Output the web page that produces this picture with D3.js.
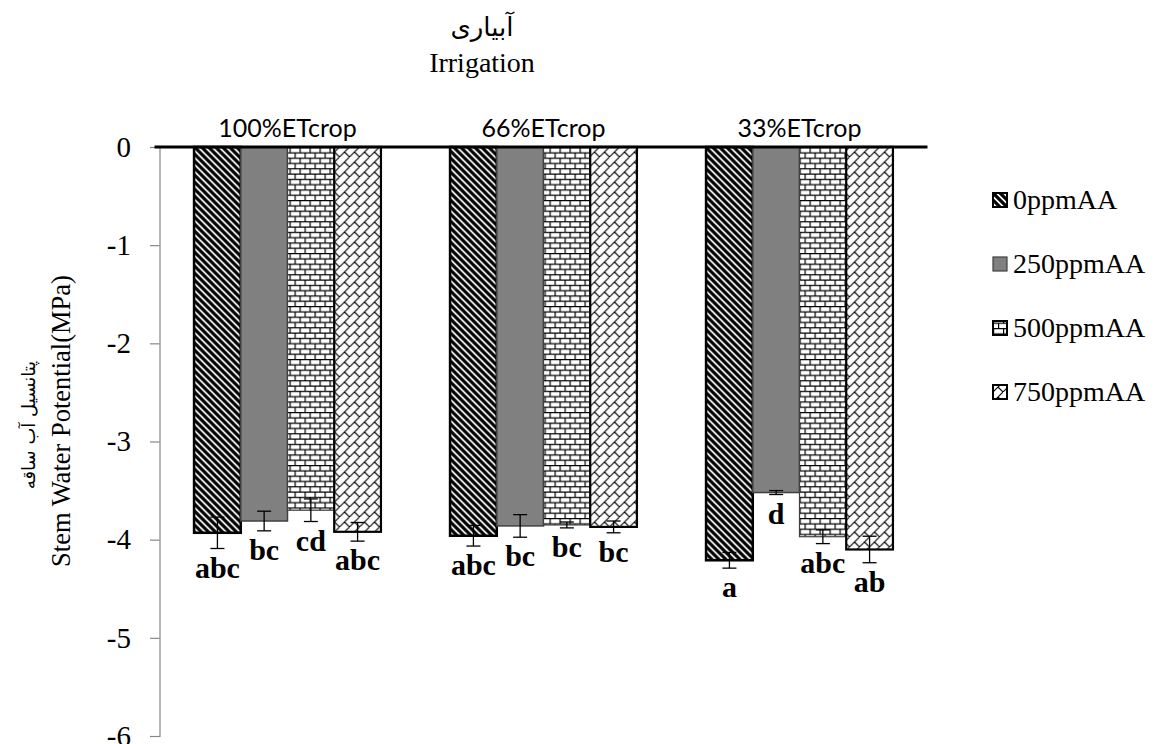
<!DOCTYPE html>
<html>
<head>
<meta charset="utf-8">
<script src="https://cdn.jsdelivr.net/npm/d3@7"></script>
<style>
  body { margin: 0; background: #fff; }
  svg { display: block; }
  .ytick text { font-family: 'Liberation Serif', 'Times New Roman', serif !important; font-size: 29px !important; }
</style>
</head>
<body>
<svg id="chart" width="1153" height="744"></svg>
<script>
// Stem water potential by irrigation level and ascorbic acid dose

const irrigation = ["100%ETcrop", "66%ETcrop", "33%ETcrop"];
const treatments = ["0ppmAA", "250ppmAA", "500ppmAA", "750ppmAA"];
// mean per irrigation level, one value per treatment (MPa)
const means100 = [-3.93, -3.81, -3.70, -3.92];
const means66 = [-3.96, -3.86, -3.85, -3.87];
const means33 = [-4.21, -3.52, -3.97, -4.10];
// standard errors
const err100 = [0.16, 0.10, 0.115, 0.095];
const err66 = [0.105, 0.115, 0.03, 0.06];
const err33 = [0.08, 0.02, 0.07, 0.135];
// significance letters
const letters100 = ["abc", "bc", "cd", "abc"];
const letters66 = ["abc", "bc", "bc", "bc"];
const letters33 = ["a", "d", "abc", "ab"];
const yTicks = [0, -1, -2, -3, -4, -5, -6];

const rows = [
  { group: irrigation[0], values: means100, errs: err100, letters: letters100 },
  { group: irrigation[1], values: means66, errs: err66, letters: letters66 },
  { group: irrigation[2], values: means33, errs: err33, letters: letters33 }
];
const bars = rows.flatMap(r => treatments.map((t, i) => ({
  group: r.group, treat: t, value: r.values[i], err: r.errs[i], letter: r.letters[i]
})));

const svg = d3.select("#chart"),
  margin = {top: 147, right: 225.5, bottom: 8, left: 159.5},
  width = +svg.attr("width") - margin.left - margin.right,
  height = +svg.attr("height") - margin.top - margin.bottom;

// --- patterns ---
const defs = svg.append("defs");
const pHatch = defs.append("pattern").attr("id", "p0").attr("patternUnits", "userSpaceOnUse")
  .attr("width", 7).attr("height", 7);
pHatch.append("rect").attr("width", 7).attr("height", 7).attr("fill", "#fff");
pHatch.append("path").attr("d", "M-2,5 L2,9 M0,0 L7,7 M5,-2 L9,2")
  .attr("stroke", "#000").attr("stroke-width", 3.2);

const pBrick = defs.append("pattern").attr("id", "p2").attr("patternUnits", "userSpaceOnUse")
  .attr("width", 10).attr("height", 10.6);
pBrick.append("rect").attr("width", 10).attr("height", 10.6).attr("fill", "#fff");
pBrick.append("path").attr("d", "M0,0.5 H10 M0,5.8 H10 M0.6,0 V5.3 M5.6,5.3 V10.6")
  .attr("stroke", "#000").attr("stroke-width", 1.2);

const pDiag = defs.append("pattern").attr("id", "p3").attr("patternUnits", "userSpaceOnUse")
  .attr("width", 10).attr("height", 10);
pDiag.append("rect").attr("width", 10).attr("height", 10).attr("fill", "#fff");
pDiag.append("path").attr("d", "M-1,11 L11,-1 M5,5 L10,10")
  .attr("stroke", "#000").attr("stroke-width", 1.1);

const fills = {
  "0ppmAA": "url(#p0)", "250ppmAA": "#808080", "500ppmAA": "url(#p2)", "750ppmAA": "url(#p3)"
};
const strokes = {
  "0ppmAA": ["#000", 2.5], "250ppmAA": ["#404040", 1.5], "500ppmAA": ["#404040", 1.2], "750ppmAA": ["#000", 2.2]
};
const serif = "'Liberation Serif', 'Times New Roman', serif";

const g = svg.append("g").attr("transform", `translate(${margin.left},${margin.top})`);

const x0 = d3.scaleBand().domain(irrigation).range([0, width]).paddingInner(0.27).paddingOuter(0.135);
const x1 = d3.scaleBand().domain(treatments).range([0, x0.bandwidth()]);
const y = d3.scaleLinear().domain([0, -6]).range([0, height]);

// y axis
const yAxis = g.append("g")
  .attr("class", "ytick")
  .call(d3.axisLeft(y).tickValues(yTicks).tickFormat(d3.format("d")).tickSize(9.5).tickPadding(19));
yAxis.select(".domain").attr("stroke", "#868686").attr("stroke-width", 1.2);
yAxis.selectAll(".tick line").attr("stroke", "#868686").attr("stroke-width", 1.2);
yAxis.selectAll(".tick text")
  .attr("fill", "#000").text(d => d === 0 ? "0" : "-" + Math.abs(d));

// bars
g.selectAll("rect.bar")
  .data(bars)
  .enter().append("rect")
  .attr("class", "bar")
  .attr("x", d => x0(d.group) + x1(d.treat))
  .attr("y", y(0))
  .attr("width", x1.bandwidth())
  .attr("height", d => y(d.value) - y(0))
  .attr("fill", d => fills[d.treat])
  .attr("stroke", d => strokes[d.treat][0])
  .attr("stroke-width", d => strokes[d.treat][1]);

// error bars
const eb = g.selectAll("g.err").data(bars).enter().append("g").attr("class", "err")
  .attr("transform", d => `translate(${x0(d.group) + x1(d.treat) + x1.bandwidth() / 2},0)`);
eb.append("line").attr("y1", d => y(d.value + d.err)).attr("y2", d => y(d.value - d.err))
  .attr("stroke", "#000").attr("stroke-width", 1.3);
eb.append("line").attr("x1", -7).attr("x2", 7)
  .attr("y1", d => y(d.value + d.err)).attr("y2", d => y(d.value + d.err))
  .attr("stroke", "#000").attr("stroke-width", 1.3);
eb.append("line").attr("x1", -7).attr("x2", 7)
  .attr("y1", d => y(d.value - d.err)).attr("y2", d => y(d.value - d.err))
  .attr("stroke", "#000").attr("stroke-width", 1.3);

// significance letters
g.selectAll("text.letter")
  .data(bars)
  .enter().append("text")
  .attr("class", "letter")
  .attr("x", d => x0(d.group) + x1(d.treat) + x1.bandwidth() / 2)
  .attr("y", d => y(d.value - d.err) + 29)
  .attr("text-anchor", "middle")
  .attr("font-family", serif)
  .attr("font-weight", "bold")
  .attr("font-size", 30)
  .text(d => d.letter);

// zero line
g.append("line")
  .attr("x1", -5).attr("x2", width)
  .attr("y1", y(0)).attr("y2", y(0))
  .attr("stroke", "#000").attr("stroke-width", 2.8);

// group labels
g.selectAll("text.grp")
  .data(irrigation)
  .enter().append("text")
  .attr("class", "grp")
  .attr("x", d => x0(d) + x0.bandwidth() / 2)
  .attr("y", -10)
  .attr("text-anchor", "middle")
  .attr("font-family", "Lato, 'Open Sans', sans-serif")
  .attr("font-size", 25)
  .attr("fill", "#000")
  .text(d => d);

// titles
svg.append("text")
  .attr("x", 482).attr("y", 36)
  .attr("text-anchor", "middle")
  .attr("font-family", "'DejaVu Sans', sans-serif")
  .attr("font-size", 26)
  .text("آبیاری");
svg.append("text")
  .attr("x", 482).attr("y", 72)
  .attr("text-anchor", "middle")
  .attr("font-family", serif)
  .attr("font-size", 28)
  .text("Irrigation");

svg.append("text")
  .attr("transform", "translate(70,421) rotate(-90)")
  .attr("text-anchor", "middle")
  .attr("font-family", serif)
  .attr("font-size", 26.5)
  .text("Stem Water Potential(MPa)");
svg.append("text")
  .attr("transform", "translate(35,425) rotate(-90)")
  .attr("text-anchor", "middle")
  .attr("font-family", "'DejaVu Sans', sans-serif")
  .attr("font-size", 18)
  .text("پتانسیل آب ساقه");

// legend
const legend = svg.append("g").attr("transform", "translate(993,200)");
const item = legend.selectAll("g").data(treatments).enter().append("g")
  .attr("transform", (d, i) => `translate(0,${i * 64})`);
item.append("rect")
  .attr("x", 0).attr("y", -7).attr("width", 14).attr("height", 14)
  .attr("fill", d => fills[d])
  .attr("stroke", d => d === "250ppmAA" ? "#404040" : "#000")
  .attr("stroke-width", d => d === "250ppmAA" ? 1.2 : 2);
item.append("text")
  .attr("x", 20).attr("y", 9)
  .attr("font-family", serif)
  .attr("font-size", 28)
  .text(d => d);
</script>
</body>
</html>
